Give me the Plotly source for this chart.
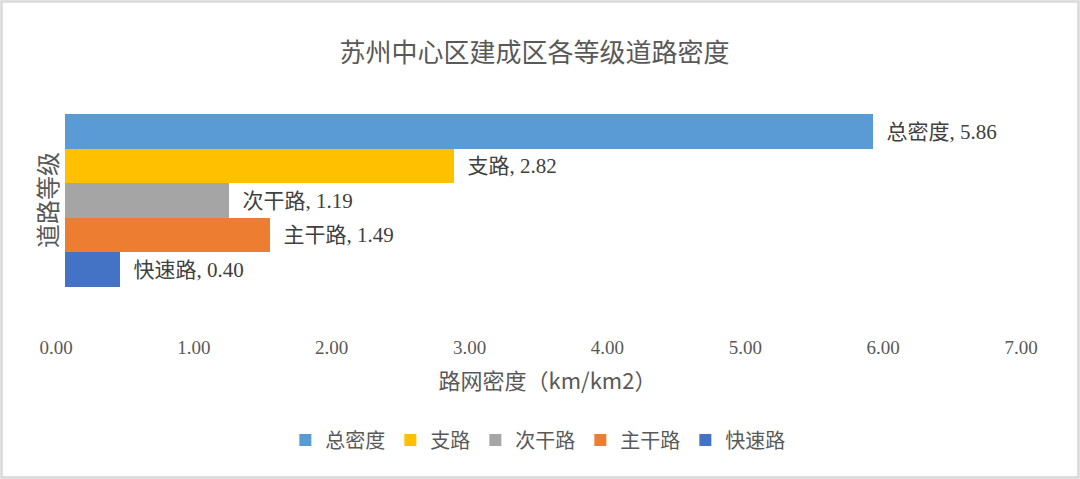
"""
苏州中心区建成区各等级道路密度 - horizontal bars, one trace per road grade
"""
import plotly.graph_objects as go

# data, listed in legend order (top bar first)
grades = ["总密度", "支路", "次干路", "主干路", "快速路"]
density = [5.86, 2.82, 1.19, 1.49, 0.40]
colors = ["#5B9BD5", "#FFC000", "#A5A5A5", "#ED7D31", "#4472C4"]

x_ticks = [0, 1, 2, 3, 4, 5, 6, 7]

SERIF_CJK = "Liberation Serif, Noto Sans CJK SC"
SANS_CJK = "Noto Sans CJK SC, Noto Sans"

fig = go.Figure()
for name, val, col in zip(grades, density, colors):
    fig.add_trace(go.Bar(
        name=name,
        y=[name],
        x=[val],
        orientation="h",
        marker=dict(color=col, line=dict(width=0)),
        # two nbsp so the label sits a little off the bar end like excel
        text=["\u00a0\u00a0" + f"{name}, {val:.2f}"],
        textposition="outside",
        textfont=dict(family=SERIF_CJK, size=21, color="#404040"),
        constraintext="none",
        cliponaxis=False,
        hoverinfo="skip",
    ))

# plot area is 65..1030 px wide, 77..330 px tall
def px_x(px):
    return (px - 65) / 965

def px_y(py):
    return (330 - py) / 253

fig.update_layout(
    width=1080, height=479,
    margin=dict(l=65, r=50, t=77, b=149),
    paper_bgcolor="white", plot_bgcolor="white",
    barmode="overlay", bargap=0,
    title=dict(text="苏州中心区建成区各等级道路密度",
               x=0.495, xanchor="center", y=1 - 53 / 479, yanchor="middle",
               font=dict(family=SANS_CJK, size=26, color="#595959")),
    xaxis=dict(range=[0, 7], tickvals=x_ticks, tickformat=".2f",
               showgrid=False, zeroline=False, showline=False, ticks="",
               ticklabelstandoff=4, ticklabelshift=-9,
               tickfont=dict(family="Liberation Serif", size=19, color="#595959"),
               title=dict(text="路网密度（km/km2）", standoff=16,
                          font=dict(family=SANS_CJK, size=22, color="#595959"))),
    yaxis=dict(type="category",
               categoryorder="array", categoryarray=grades[::-1],
               range=[-1.74, 5.57], showticklabels=False, showgrid=False,
               zeroline=False, showline=False, ticks=""),
    legend=dict(orientation="h", x=0.49, xanchor="center",
                y=px_y(440), yanchor="middle", traceorder="normal",
                font=dict(family=SANS_CJK, size=20, color="#595959"),
                itemwidth=30),
    showlegend=True,
)

# vertical y axis title
fig.add_annotation(text="道路等级", xref="paper", yref="paper",
                   x=px_x(46), y=px_y(200), xanchor="center", yanchor="middle",
                   textangle=-90, showarrow=False,
                   font=dict(family=SANS_CJK, size=24, color="#595959"))

# light grey frame around the whole chart
fig.add_shape(type="rect", xref="paper", yref="paper",
              x0=px_x(1.5), x1=px_x(1078.5), y0=px_y(477.5), y1=px_y(1.5),
              line=dict(color="#D9D9D9", width=2.5), layer="below")

# page body has a default 8px margin, drop it so the chart fills the window
fig.write_html("out.html", config={"displayModeBar": False},
               post_script="document.body.style.margin='0';")
